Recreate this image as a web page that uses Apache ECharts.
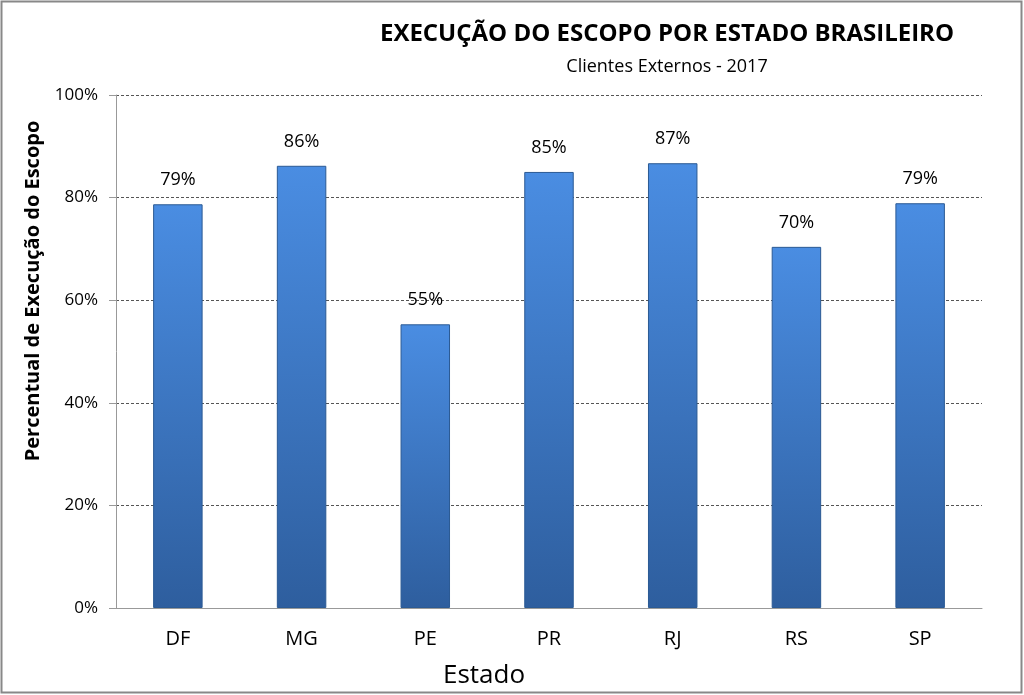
<!DOCTYPE html>
<html>
<head>
<meta charset="utf-8">
<script src="https://cdn.jsdelivr.net/npm/echarts@6/dist/echarts.min.js"></script>
<style>
    html, body { margin: 0; padding: 0; background: #fff; }
    #chart { width: 1024px; height: 695px; }
</style>
</head>
<body>
<div id="chart"></div>
<script>
    // dados
    var estados = ['DF', 'MG', 'PE', 'PR', 'RJ', 'RS', 'SP'];
    var execucao = [78.7, 86.2, 55.3, 85.0, 86.7, 70.4, 78.9];
    var yTicks = [0, 20, 40, 60, 80, 100];

    var chart = echarts.init(document.getElementById('chart'));
    var font = 'Open Sans';

    chart.setOption({
        animation: false,
        graphic: [
            {
                type: 'rect',
                shape: { x: 1.5, y: 1.5, width: 1020, height: 691 },
                style: { fill: 'none', stroke: '#888', lineWidth: 2 },
            },
            {
                type: 'text',
                x: 667,
                y: 34,
                style: {
                    text: 'EXECUÇÃO DO ESCOPO POR ESTADO BRASILEIRO',
                    font: 'bold 24px "Open Sans"',
                    fill: '#000',
                    align: 'center',
                    verticalAlign: 'middle',
                },
            },
            {
                type: 'text',
                x: 667,
                y: 67,
                style: {
                    text: 'Clientes Externos - 2017',
                    font: '18px "Open Sans"',
                    fill: '#000',
                    align: 'center',
                    verticalAlign: 'middle',
                },
            },
            {
                type: 'text',
                x: 484,
                y: 676,
                style: {
                    text: 'Estado',
                    font: '26px "Open Sans"',
                    fill: '#000',
                    align: 'center',
                    verticalAlign: 'middle',
                },
            },
            {
                type: 'text',
                x: 33,
                y: 291,
                rotation: Math.PI / 2,
                style: {
                    text: 'Percentual de Execução do Escopo',
                    font: 'bold 20px "Open Sans"',
                    fill: '#000',
                    align: 'center',
                    verticalAlign: 'middle',
                },
            },
        ],
        grid: {
            left: 116,
            right: 42,
            top: 95,
            bottom: 87,
        },
        xAxis: {
            type: 'category',
            data: estados,
            axisLine: { lineStyle: { color: '#999' } },
            axisTick: { show: false },
            axisLabel: { fontFamily: font, fontSize: 20, color: '#000', margin: 21 },
        },
        yAxis: {
            type: 'value',
            min: yTicks[0],
            max: yTicks[yTicks.length - 1],
            interval: 20,
            axisLine: { show: true, lineStyle: { color: '#999' } },
            axisTick: { show: true, length: 7, lineStyle: { color: '#999' } },
            axisLabel: {
                fontFamily: font,
                fontSize: 17,
                color: '#000',
                margin: 18,
                formatter: '{value}%',
            },
            splitLine: { lineStyle: { color: '#555', type: [3, 2], width: 1 } },
        },
        series: [
            {
                type: 'bar',
                data: execucao,
                barWidth: '40%',
                itemStyle: {
                    color: new echarts.graphic.LinearGradient(0, 0, 0, 1, [
                        { offset: 0, color: '#4a8de2' },
                        { offset: 1, color: '#2e5e9e' },
                    ]),
                    borderColor: '#2b5a94',
                    borderWidth: 1,
                },
                label: {
                    show: true,
                    position: 'top',
                    distance: 15,
                    fontFamily: font,
                    fontSize: 18,
                    color: '#000',
                    formatter: function (p) {
                        return Math.round(p.value) + '%';
                    },
                },
            },
        ],
    });
</script>
</body>
</html>
